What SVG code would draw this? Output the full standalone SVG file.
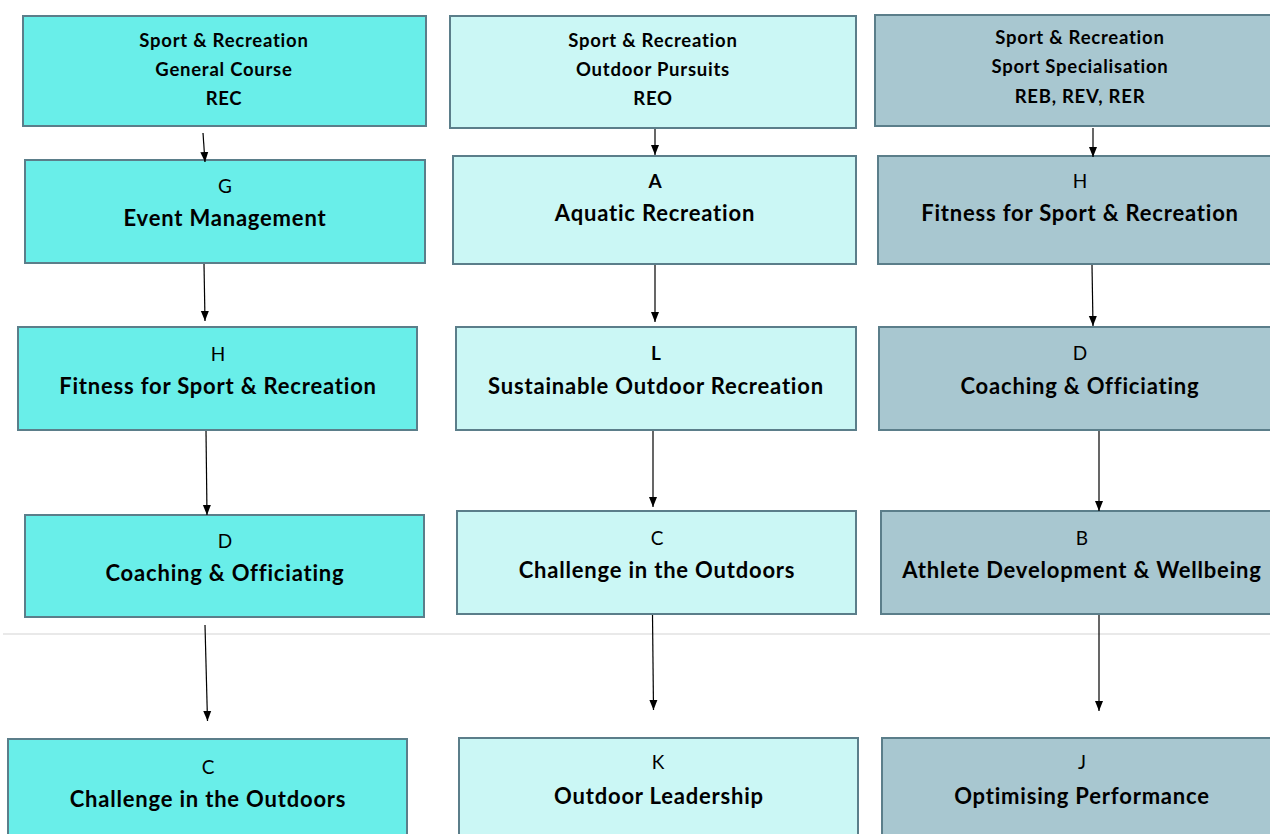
<svg xmlns="http://www.w3.org/2000/svg" width="1270" height="834" viewBox="0 0 1270 834">
  <style>
    .box { stroke: #5b7e8a; stroke-width: 2; }
    .gen { fill: #69eee9; }
    .out { fill: #cbf7f5; }
    .spe { fill: #a8c7d0; }
    text { font-family: Lato, "Open Sans", sans-serif; fill: #000; text-anchor: middle; dominant-baseline: central; }
    .hd { font-size: 18.5px; font-weight: 700; letter-spacing: 0.75px; }
    .code { font-size: 19px; font-weight: 400; }
    .codeb { font-size: 19px; font-weight: 700; }
    .ttl { font-size: 22px; font-weight: 700; letter-spacing: 0.8px; }
    .link { stroke: #000; stroke-width: 1.2; fill: none; marker-end: url(#arrow); }
  </style>
  <defs>
    <marker id="arrow" markerUnits="userSpaceOnUse" markerWidth="10" markerHeight="10" viewBox="0 0 10 10" refX="10" refY="5" orient="auto">
      <path d="M0,1 L10,5 L0,9 Z" fill="#000"/>
    </marker>
  </defs>
  <rect width="1270" height="834" fill="#fff"/>

  <!-- divider -->
  <line x1="3" y1="634" x2="1270" y2="634" stroke="#e2e2e2" stroke-width="1.5"/>

  <!-- General Course column -->
  <g id="rec-header">
    <rect class="box gen" x="23" y="16" width="403" height="110"/>
    <text class="hd" x="224" y="40">Sport &amp; Recreation</text>
    <text class="hd" x="224" y="69">General Course</text>
    <text class="hd" x="224" y="98">REC</text>
  </g>
  <g id="rec-g">
    <rect class="box gen" x="25" y="160" width="400" height="103"/>
    <text class="code" x="225" y="185">G</text>
    <text class="ttl" x="225" y="217">Event Management</text>
  </g>
  <g id="rec-h">
    <rect class="box gen" x="18" y="327" width="399" height="103"/>
    <text class="code" x="218" y="353">H</text>
    <text class="ttl" x="218" y="385">Fitness for Sport &amp; Recreation</text>
  </g>
  <g id="rec-d">
    <rect class="box gen" x="25" y="515" width="399" height="102"/>
    <text class="code" x="225" y="540">D</text>
    <text class="ttl" x="225" y="572">Coaching &amp; Officiating</text>
  </g>
  <g id="rec-c">
    <rect class="box gen" x="8" y="739" width="399" height="110"/>
    <text class="code" x="208" y="766">C</text>
    <text class="ttl" x="208" y="798">Challenge in the Outdoors</text>
  </g>

  <!-- Outdoor Pursuits column -->
  <g id="reo-header">
    <rect class="box out" x="450" y="16" width="406" height="112"/>
    <text class="hd" x="653" y="40">Sport &amp; Recreation</text>
    <text class="hd" x="653" y="69">Outdoor Pursuits</text>
    <text class="hd" x="653" y="98">REO</text>
  </g>
  <g id="reo-a">
    <rect class="box out" x="453" y="156" width="403" height="108"/>
    <text class="codeb" x="655" y="180">A</text>
    <text class="ttl" x="655" y="212">Aquatic Recreation</text>
  </g>
  <g id="reo-l">
    <rect class="box out" x="456" y="327" width="400" height="103"/>
    <text class="codeb" x="656" y="352">L</text>
    <text class="ttl" x="656" y="385">Sustainable Outdoor Recreation</text>
  </g>
  <g id="reo-c">
    <rect class="box out" x="457" y="511" width="399" height="103"/>
    <text class="code" x="657" y="537">C</text>
    <text class="ttl" x="657" y="569">Challenge in the Outdoors</text>
  </g>
  <g id="reo-k">
    <rect class="box out" x="459" y="738" width="399" height="110"/>
    <text class="code" x="658" y="761">K</text>
    <text class="ttl" x="659" y="795">Outdoor Leadership</text>
  </g>

  <!-- Sport Specialisation column -->
  <g id="res-header">
    <rect class="box spe" x="875" y="15" width="420" height="111"/>
    <text class="hd" x="1080" y="37">Sport &amp; Recreation</text>
    <text class="hd" x="1080" y="66">Sport Specialisation</text>
    <text class="hd" x="1080" y="96">REB, REV, RER</text>
  </g>
  <g id="res-h">
    <rect class="box spe" x="878" y="156" width="420" height="108"/>
    <text class="code" x="1080" y="180">H</text>
    <text class="ttl" x="1080" y="212">Fitness for Sport &amp; Recreation</text>
  </g>
  <g id="res-d">
    <rect class="box spe" x="879" y="327" width="420" height="103"/>
    <text class="code" x="1080" y="352">D</text>
    <text class="ttl" x="1080" y="385">Coaching &amp; Officiating</text>
  </g>
  <g id="res-b">
    <rect class="box spe" x="881" y="511" width="420" height="103"/>
    <text class="code" x="1082" y="537">B</text>
    <text class="ttl" x="1082" y="569">Athlete Development &amp; Wellbeing</text>
  </g>
  <g id="res-j">
    <rect class="box spe" x="882" y="738" width="420" height="110"/>
    <text class="code" x="1082" y="761">J</text>
    <text class="ttl" x="1082" y="795">Optimising Performance</text>
  </g>

  <!-- connectors -->
  <g id="connectors">
    <line class="link" x1="203" y1="133" x2="205" y2="162"/>
    <line class="link" x1="204" y1="264" x2="205" y2="321"/>
    <line class="link" x1="206" y1="431" x2="207" y2="515"/>
    <line class="link" x1="205" y1="625" x2="207.5" y2="721"/>

    <line class="link" x1="655" y1="129" x2="655" y2="155"/>
    <line class="link" x1="655" y1="265" x2="655" y2="322"/>
    <line class="link" x1="653" y1="431" x2="653" y2="507"/>
    <line class="link" x1="652.5" y1="615" x2="653.5" y2="710"/>

    <line class="link" x1="1093" y1="128" x2="1093" y2="157"/>
    <line class="link" x1="1092" y1="265" x2="1093" y2="326"/>
    <line class="link" x1="1099" y1="431" x2="1099" y2="511"/>
    <line class="link" x1="1099" y1="615" x2="1099" y2="711"/>
  </g>
</svg>
